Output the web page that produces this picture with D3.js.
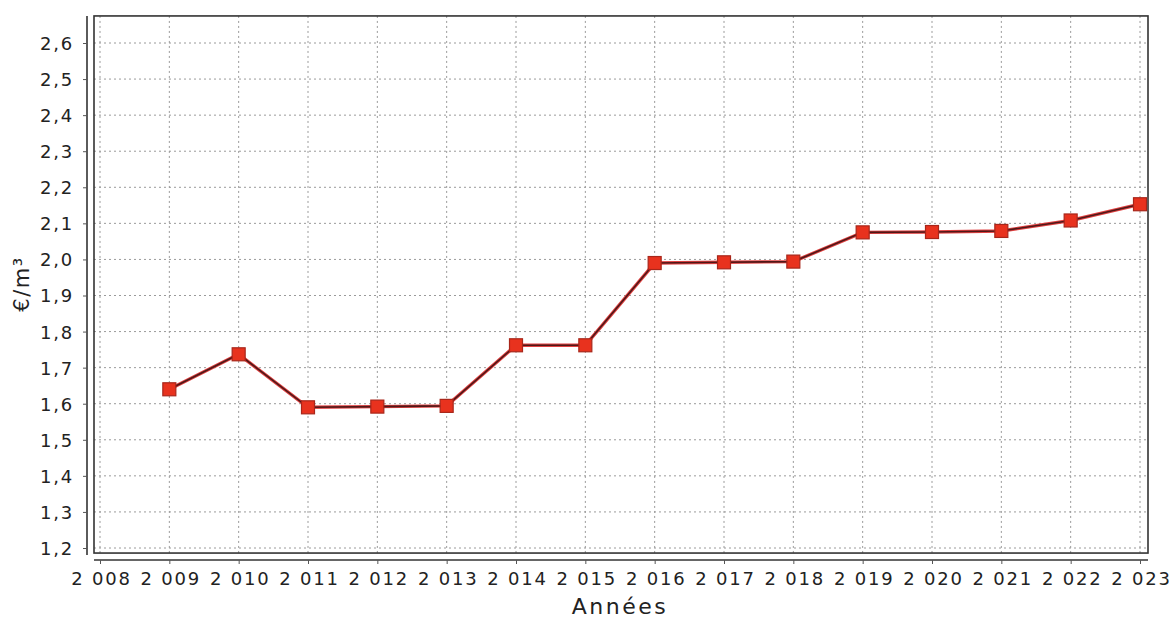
<!DOCTYPE html>
<html><head><meta charset="utf-8">
<script src="https://cdn.jsdelivr.net/npm/d3@7/dist/d3.min.js"></script>
<style>body{margin:0;background:#fff;}svg{display:block;}</style>
</head><body>
<svg id="c" width="1173" height="618"></svg>
<script>
const years = [2009,2010,2011,2012,2013,2014,2015,2016,2017,2018,2019,2020,2021,2022,2023];
const prices = [1.64,1.737,1.59,1.592,1.594,1.762,1.762,1.99,1.992,1.994,2.075,2.076,2.079,2.108,2.153];
const xTicks = d3.range(2008,2024);
const yTicks = [1.2,1.3,1.4,1.5,1.6,1.7,1.8,1.9,2.0,2.1,2.2,2.3,2.4,2.5,2.6];
const xTitle = "Années";
const yTitle = "€/m³";

const svg = d3.select("#c");
const font = "DejaVu Sans, Verdana, sans-serif";
const x = d3.scaleLinear().domain([2008,2023]).range([100,1140]);
const y = d3.scaleLinear().domain([1.2,2.6]).range([548,43]);
const fx0 = 94, fx1 = 1148, fy0 = y(2.675), fy1 = y(1.186);
const fmtX = d => { const s = String(d); return s.slice(0,1)+" "+s.slice(1); };
const fmtY = d => d.toFixed(1).replace(".", ",");

// grid
const g = svg.append("g");
g.selectAll(".hg").data(yTicks).join("line")
  .attr("x1",fx0).attr("x2",fx1).attr("y1",d=>y(d)).attr("y2",d=>y(d))
  .attr("stroke","#9a9a9a").attr("stroke-width",1).attr("stroke-dasharray","2,3");
g.selectAll(".vg").data(xTicks).join("line")
  .attr("x1",d=>x(d)).attr("x2",d=>x(d)).attr("y1",fy0).attr("y2",fy1)
  .attr("stroke","#9a9a9a").attr("stroke-width",1).attr("stroke-dasharray","2,3");

// frame
svg.append("rect").attr("x",fx0).attr("y",fy0).attr("width",fx1-fx0).attr("height",fy1-fy0)
  .attr("fill","none").attr("stroke","#333").attr("stroke-width",1.6);

// axes
const yAxis = d3.axisLeft(y).tickValues(yTicks).tickFormat(fmtY).tickSize(4).tickPadding(9);
const ya = svg.append("g").attr("transform","translate(87,0)").call(yAxis);
ya.select(".domain").attr("stroke","#333").attr("stroke-width",1.6).attr("d",`M0,${fy0}V${fy1+2}`);
const xAxis = d3.axisBottom(x).tickValues(xTicks).tickFormat(fmtX).tickSize(4).tickPadding(8);
const xa = svg.append("g").attr("transform","translate(0,560)").call(xAxis);
xa.select(".domain").attr("stroke","#333").attr("stroke-width",1.6).attr("d",`M${fx0},0H${fx1}`);
svg.selectAll(".tick line").attr("stroke","#555");
svg.selectAll(".tick text").attr("font-family",font).attr("font-size",18).attr("letter-spacing","1.8px").attr("fill","#222");
ya.selectAll(".tick text").attr("dy","0.36em");
xa.selectAll(".tick text").attr("dx","1px");

// line
const line = d3.line().x((d,i)=>x(years[i])).y(d=>y(d));
svg.append("path").datum(prices).attr("d",line).attr("fill","none").attr("stroke","#e04040").attr("stroke-width",3.4);
svg.append("path").datum(prices).attr("d",line).attr("fill","none").attr("stroke","#4e1818").attr("stroke-width",1.6);
svg.selectAll(".m").data(prices).join("rect")
  .attr("x",(d,i)=>x(years[i])-6.5).attr("y",d=>y(d)-6.5).attr("width",13).attr("height",13)
  .attr("fill","#e8321e").attr("stroke","#a8261a").attr("stroke-width",1.2);

// titles
svg.append("text").attr("x",620).attr("y",614).attr("text-anchor","middle")
  .attr("font-family",font).attr("font-size",22).attr("letter-spacing","2.5px").attr("fill","#222").text(xTitle);
svg.append("text").attr("transform","translate(29,284) rotate(-90)").attr("text-anchor","middle")
  .attr("font-family",font).attr("font-size",21).attr("letter-spacing","1.5px").attr("fill","#222").text(yTitle);
</script>
</body></html>
